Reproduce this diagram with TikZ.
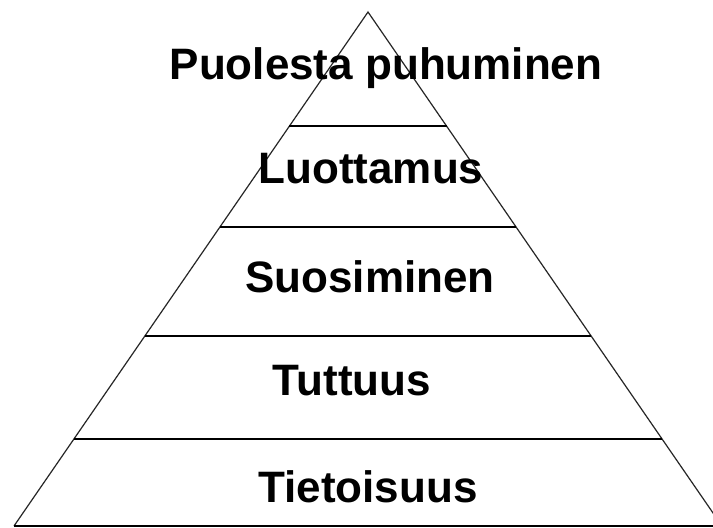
\documentclass[tikz,border=0pt]{standalone}
\usepackage{fontspec}
\setmainfont{Liberation Sans}
\usetikzlibrary{calc}

\tikzset{
    tier/.style={anchor=base, inner sep=0pt, font=\fontsize{44}{48}\selectfont\bfseries},
    edge/.style={black!85, line width=1.2pt},
    layer/.style={black, line width=1.4pt}
}

\begin{document}
\begin{tikzpicture}[x=1pt, y=-1pt]
        \useasboundingbox [fill=white] (0,0) rectangle (713,528);

        \coordinate (apex) at (368,12);
        \coordinate (left) at (14,526);
        \coordinate (right) at (722,526);

        \draw [edge] (left) -- (apex) -- (right);
        \draw [layer] (left) -- (right);

        % layer lines where the sides reach y = 126, 227, 336, 439
        \foreach \t in {0.222,0.418,0.630,0.831} {
            \draw [layer] ($(apex)!\t!(left)$) -- ($(apex)!\t!(right)$);
        }

        \node [tier] (puolesta) at (386,79) {Puolesta puhuminen};
        \node [tier] (luottamus) at (371,183) {Luottamus};
        \node [tier] (suosiminen) at (370,292) {Suosiminen};
        \node [tier] (tuttuus) at (352,395) {Tuttuus};
        \node [tier] (tietoisuus) at (368,502) {Tietoisuus};
    \end{tikzpicture}
\end{document}
